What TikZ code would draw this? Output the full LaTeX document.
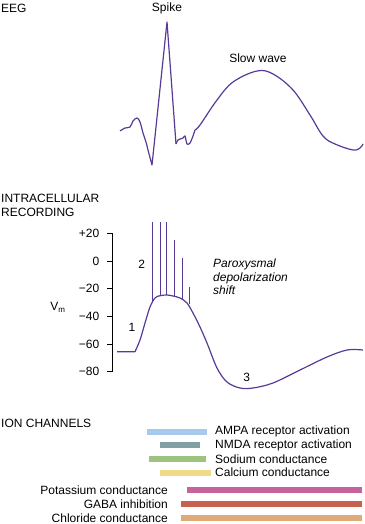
\documentclass[tikz,border=0pt]{standalone}
\usepackage{fontspec}
\setmainfont{Liberation Sans}
\usepackage{tikz}
\usetikzlibrary{positioning}

\definecolor{trace}{RGB}{88,58,150}
\definecolor{ampa}{RGB}{166,201,238}
\definecolor{nmda}{RGB}{128,160,164}
\definecolor{sodium}{RGB}{156,196,128}
\definecolor{calcium}{RGB}{240,218,138}
\definecolor{potassium}{RGB}{200,98,156}
\definecolor{gaba}{RGB}{200,98,80}
\definecolor{chloride}{RGB}{222,170,120}

\begin{document}
\begin{tikzpicture}[
    x=1pt, y=-1pt,
    every node/.style={font=\fontsize{12}{14}\selectfont, inner sep=0pt},
    heading/.style={anchor=west, align=left},
    wave/.style={draw=trace, line width=1.2pt, line join=round},
    tick/.style={anchor=east},
    chan/.style={anchor=west}
]
\useasboundingbox (0,0) rectangle (364,524);

% Section headings
\node[heading] (eeg_label) at (1,8) {EEG};
\node[heading, align=left, text width=140pt] (intra_label) at (1,205) {INTRACELLULAR\\RECORDING};
\node[heading] (ion_label) at (1,423) {ION CHANNELS};

% EEG trace
\node (spike_label) at (167,8) {Spike};
\node (slow_label) at (258,58) {Slow wave};
\coordinate (spike_top) at (167,22);
\coordinate (spike_low) at (152,165);
\coordinate (spike_end) at (176,144);
\draw[wave] plot[smooth, tension=0.6] coordinates {(120,131) (125,128) (130,127) (133,121) (137,118) (140,122) (143,133) (146,142) (148,150) (152,165)}
    -- (spike_top) -- (spike_end);
\draw[wave] plot[smooth, tension=0.5] coordinates {(176,144) (178,140) (183,138) (185,136) (187,144) (190,143) (193,136) (195,130)};
\draw[wave] plot[smooth, tension=0.6] coordinates {(195,130) (200,125) (217,100) (233,82) (257,71) (273,74) (293,90) (310,115) (323,136) (335,144) (353,150) (360,148) (363,144)};

% Membrane potential axis
\draw[line width=0.8pt] (112,233.3) -- (112,371.7);
\foreach \v [count=\k from 0] in {+20,0,−20,−40,−60,−80} {
    \draw[line width=0.8pt] (107,233.3+\k*27.7) -- (112,233.3+\k*27.7);
    \node[tick] (tick\k) at (99.5,233.3+\k*27.7) {\v};
}
\node (vm_label) at (58,307) {V\textsubscript{m}};

% Intracellular trace
\draw[wave] (117,351.7) -- (135,351.7)
    plot[smooth, tension=0.55] coordinates {(135,351.7) (140,340) (145,323) (150,307) (155,298) (160,295.7) (167,295) (173,296) (180,298) (187,303) (193,313) (200,327) (207,343) (217,368) (227,382) (240,388) (253,388) (273,383) (300,370) (327,357) (347,350) (363,350)};

% Bursts of action potentials
\foreach \xs/\ytop/\ybot in {152.7/221.7/300.5, 160/221.7/296, 166.7/221.7/295.2, 174.7/240/296, 182/258/298.5, 189.3/286.7/304} {
    \draw[trace, line width=1pt] (\xs,\ybot) -- (\xs,\ytop);
}

% Phase numbers
\node (num1) at (132,327) {1};
\node (num2) at (141.7,264) {2};
\node (num3) at (246.7,377) {3};
\node[anchor=west, align=left, font=\fontsize{12}{13.7}\selectfont\itshape] (pds_label) at (213,277) {Paroxysmal\\depolarization\\shift};

% Ion channels
\fill[ampa] (146.7,428.5) rectangle (206.7,435);
\fill[nmda] (160.3,441.8) rectangle (200,448.3);
\fill[sodium] (148.7,455.8) rectangle (206,462.3);
\fill[calcium] (160.3,469.5) rectangle (211,476);
\fill[potassium] (187.3,486.8) rectangle (362,493.3);
\fill[gaba] (181,500.8) rectangle (362,507.3);
\fill[chloride] (181,514.8) rectangle (362,521.3);

\node[chan] (ampa_label) at (215,431.7) {AMPA receptor activation};
\node[chan] (nmda_label) at (215,445) {NMDA receptor activation};
\node[chan] (sodium_label) at (215,459) {Sodium conductance};
\node[chan] (calcium_label) at (215,472.7) {Calcium conductance};
\node[anchor=east] (potassium_label) at (168,490) {Potassium conductance};
\node[anchor=east] (gaba_label) at (168,504) {GABA inhibition};
\node[anchor=east] (chloride_label) at (168,518) {Chloride conductance};
\end{tikzpicture}
\end{document}
